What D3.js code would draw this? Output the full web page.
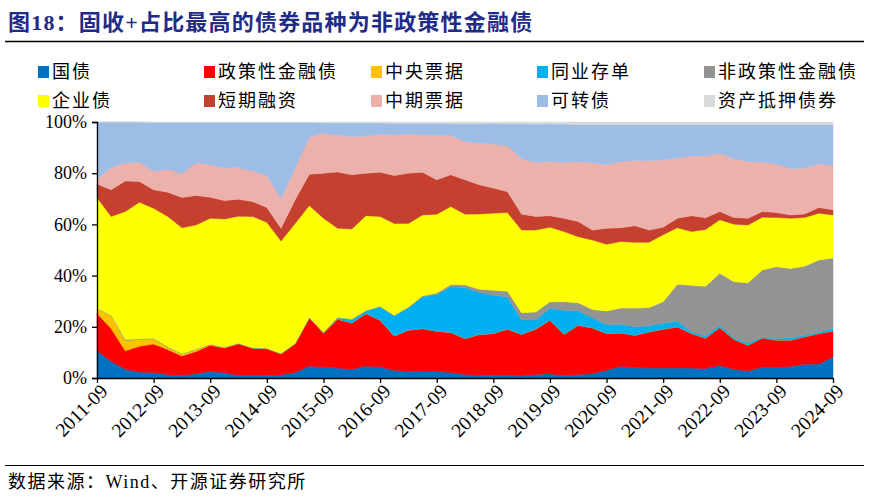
<!DOCTYPE html>
<html><head><meta charset="utf-8">
<script src="https://cdn.jsdelivr.net/npm/d3@7"></script>
<style>
html,body{margin:0;padding:0;background:#fff;}
svg{display:block;}
</style></head>
<body>
<svg id="chart" width="869" height="503"></svg>
<script>
const quarters = ["2011-09","2011-12","2012-03","2012-06","2012-09","2012-12","2013-03","2013-06","2013-09","2013-12","2014-03","2014-06","2014-09","2014-12","2015-03","2015-06","2015-09","2015-12","2016-03","2016-06","2016-09","2016-12","2017-03","2017-06","2017-09","2017-12","2018-03","2018-06","2018-09","2018-12","2019-03","2019-06","2019-09","2019-12","2020-03","2020-06","2020-09","2020-12","2021-03","2021-06","2021-09","2021-12","2022-03","2022-06","2022-09","2022-12","2023-03","2023-06","2023-09","2023-12","2024-03","2024-06","2024-09"];
const tickLabels = ["2011-09","2012-09","2013-09","2014-09","2015-09","2016-09","2017-09","2018-09","2019-09","2020-09","2021-09","2022-09","2023-09","2024-09"];
const yTicks = [0,20,40,60,80,100];
const seriesNames = ["国债","政策性金融债","中央票据","同业存单","非政策性金融债","企业债","短期融资","中期票据","可转债","资产抵押债券"];
const seriesColors = ["#0070C0","#FF0000","#FFC000","#00B0F0","#939393","#FFFF00","#C5402F","#EBB1AA","#9DBDE6","#D9D9D9"];

const govBond      = [10.6,6.5,3.4,2.3,2.1,1.4,1.0,1.7,2.6,2.1,1.0,1.0,1.0,1.3,2.1,4.7,4.3,3.9,3.4,4.7,4.3,3.0,2.6,2.7,2.7,2.1,1.4,1.2,1.0,1.0,0.8,1.4,1.7,1.0,1.4,1.7,3.0,4.6,4.0,3.9,3.9,3.9,3.9,3.7,4.9,3.4,2.7,4.3,4.0,4.6,5.4,5.5,8.2];
const policyBank   = [14.6,12.8,7.2,10.1,11.2,9.7,7.6,8.7,10.2,9.6,12.4,10.7,10.5,8.2,11.3,18.8,13.3,19.1,18.1,20.5,18.3,13.4,16.1,16.6,15.6,15.7,14.0,15.8,16.4,18.1,16.3,17.7,20.9,16.1,19.2,17.9,14.4,13.0,12.7,14.1,15.2,16.1,13.5,11.9,14.8,11.7,10.1,11.4,10.8,10.2,10.7,11.9,10.2];
const centralBill  = [2.0,5.2,4.2,2.7,2.1,1.0,0.8,0.7,0.3,0.2,0.1,0,0,0,0,0,0,0,0,0,0,0,0,0,0,0,0,0,0,0,0,0,0,0,0,0,0,0,0,0,0,0,0,0,0,0,0,0,0,0,0,0,0];
const ncd          = [0,0,0,0,0,0,0,0,0,0,0,0,0,0,0,0,0.1,0.5,1.3,1.0,5.2,7.9,8.7,12.4,14.3,17.8,20.0,16.4,15.0,12.5,5.6,3.6,4.6,9.4,5.6,3.9,3.5,3.4,3.3,2.4,2.3,2.3,0.7,0.9,0.9,0.6,0.8,0.5,0.6,0.9,0.6,0.6,0.9];
const nonPolicyFin = [0,0,0.2,0.1,0.1,0.1,0.1,0.1,0.1,0.1,0.1,0.1,0.1,0.1,0.2,0.2,0.2,0.2,0.2,0.2,0.2,0.2,0.3,0.4,0.6,0.9,1.0,1.3,1.9,2.3,2.8,3.1,2.6,3.3,3.2,3.3,5.3,6.3,7.3,7.1,8.4,14.3,18.1,19.3,20.3,21.9,23.6,26.0,28.1,27.1,27.0,28.1,27.6];
const enterprise   = [43.3,38.6,50.0,53.5,50.8,50.9,49.2,48.6,49.2,50.1,49.6,51.3,49.2,43.9,46.8,43.7,44.5,34.8,35.2,37.0,35.1,35.9,32.7,31.6,30.8,30.5,27.6,29.4,30.1,30.7,32.3,32.0,29.1,27.4,25.8,27.1,26.0,26.0,25.7,25.5,26.2,22.1,21.0,22.2,20.9,22.5,22.6,20.6,19.2,19.6,19.0,18.3,16.8];
const shortTerm    = [5.3,10.4,12.0,8.1,7.2,9.5,11.8,11.5,8.2,7.2,6.6,5.8,5.8,5.0,9.2,12.2,17.6,22.0,21.2,16.6,17.3,18.7,19.6,16.7,13.4,12.4,13.4,11.4,9.8,8.2,6.2,5.3,4.5,5.2,5.9,3.9,6.3,5.4,6.5,4.8,2.9,3.7,6.2,4.6,3.2,2.6,2.6,2.2,1.9,1.3,1.4,2.2,2.0];
const mtn          = [1.8,8.7,7.0,7.5,7.2,8.9,9.3,12.7,12.7,12.7,12.4,12.0,12.5,11.7,12.4,14.4,15.7,14.3,14.9,14.4,14.9,15.9,15.3,14.6,17.4,15.4,15.0,16.3,17.2,17.9,21.6,21.1,21.2,21.8,23.5,26.2,24.8,25.9,25.5,27.1,26.3,23.5,23.2,24.1,22.8,22.9,22.2,19.3,19.0,18.0,17.9,17.0,17.3];
const convertible  = [22.4,17.8,16.0,15.7,19.1,18.3,20.0,15.8,16.5,17.8,17.6,18.9,20.7,29.6,17.8,5.8,4.0,4.8,5.3,5.2,4.3,4.5,4.2,4.5,4.7,4.6,6.9,7.5,8.1,8.6,13.7,15.0,14.7,15.0,14.4,15.0,15.7,14.4,14.0,14.1,13.8,13.1,12.4,12.3,11.2,13.4,14.4,14.7,15.4,17.3,17.0,15.4,16.0];
const abs          = [0,0,0,0,0.2,0.2,0.2,0.2,0.2,0.2,0.2,0.2,0.2,0.2,0.2,0.2,0.3,0.4,0.4,0.4,0.4,0.5,0.5,0.5,0.5,0.6,0.7,0.7,0.5,0.7,0.7,0.8,0.7,0.8,1.0,1.0,1.0,1.0,1.0,1.0,1.0,1.0,1.0,1.0,1.0,1.0,1.0,1.0,1.0,1.0,1.0,1.0,1.0];

const seriesData = [govBond,policyBank,centralBill,ncd,nonPolicyFin,enterprise,shortTerm,mtn,convertible,abs];

const svg = d3.select("#chart");
const serif = "'Liberation Serif','Times New Roman','Noto Sans CJK SC',serif";
const cjk = "'Liberation Serif','Noto Sans CJK SC',serif";

// Title
svg.append("text").attr("x",8).attr("y",30)
  .attr("font-family",cjk)
  .attr("font-weight","bold").attr("font-size",22).attr("letter-spacing",1.2).attr("fill","#1F2C87")
  .text("图18：固收+占比最高的债券品种为非政策性金融债");
svg.append("line").attr("x1",5).attr("x2",864).attr("y1",41.5).attr("y2",41.5)
  .attr("stroke","#000").attr("stroke-width",1.5);

// Legend
const legX = [38,204,371,537,704];
const legY = [72,101];
seriesNames.forEach((n,i)=>{
  const col = i%5, row = Math.floor(i/5);
  const g = svg.append("g").attr("transform",`translate(${legX[col]},${legY[row]})`);
  g.append("rect").attr("x",0).attr("y",-6).attr("width",11).attr("height",12).attr("fill",seriesColors[i]);
  g.append("text").attr("x",14).attr("y",0).attr("dy","0.36em")
    .attr("font-family",cjk).attr("font-size",18).attr("letter-spacing",2).attr("fill","#000").text(n);
});

// Scales
const x = d3.scalePoint().domain(quarters).range([97,833]);
const y = d3.scaleLinear().domain([0,100]).range([378,122]);

const rows = quarters.map((q,i)=>{
  const o = {q};
  seriesNames.forEach((n,k)=>{ o[n] = seriesData[k][i]; });
  return o;
});
const stack = d3.stack().keys(seriesNames).offset(d3.stackOffsetExpand);
const layers = stack(rows);
const area = d3.area().x(d=>x(d.data.q)).y0(d=>y(d[0]*100)).y1(d=>y(d[1]*100));

svg.append("g").selectAll("path").data(layers).join("path")
  .attr("d",area).attr("fill",(d,i)=>seriesColors[i])
  .attr("stroke",(d,i)=>seriesColors[i]).attr("stroke-width",0.5);

// Axes
const yAxis = d3.axisLeft(y).tickValues(yTicks).tickFormat(d=>d+"%").tickSize(5).tickPadding(5);
const gy = svg.append("g").attr("transform","translate(97,0)").call(yAxis);
gy.select(".domain").attr("stroke","#000").attr("stroke-width",1.3);
gy.selectAll(".tick line").attr("stroke","#000").attr("stroke-width",1.3);
gy.selectAll("text").attr("font-family",serif).attr("font-size",18).attr("fill","#000");

const xAxis = d3.axisBottom(x).tickValues(tickLabels).tickSize(5).tickSizeOuter(0).tickPadding(4);
const gx = svg.append("g").attr("transform","translate(0,378)").call(xAxis);
gx.select(".domain").attr("stroke","#000").attr("stroke-width",1.3);
gx.selectAll(".tick line").attr("stroke","#000").attr("stroke-width",1.3);
gx.selectAll("text").attr("font-family",serif).attr("font-size",19.5).attr("fill","#000")
  .attr("text-anchor","end").attr("dy",0)
  .attr("transform","translate(5,8) rotate(-45)");

// Footer
svg.append("line").attr("x1",5).attr("x2",864).attr("y1",465.5).attr("y2",465.5)
  .attr("stroke","#000").attr("stroke-width",1.2);
svg.append("text").attr("x",8).attr("y",488)
  .attr("font-family",cjk).attr("font-size",18).attr("letter-spacing",1.5).attr("fill","#000")
  .text("数据来源：Wind、开源证券研究所");
</script>
</body></html>
